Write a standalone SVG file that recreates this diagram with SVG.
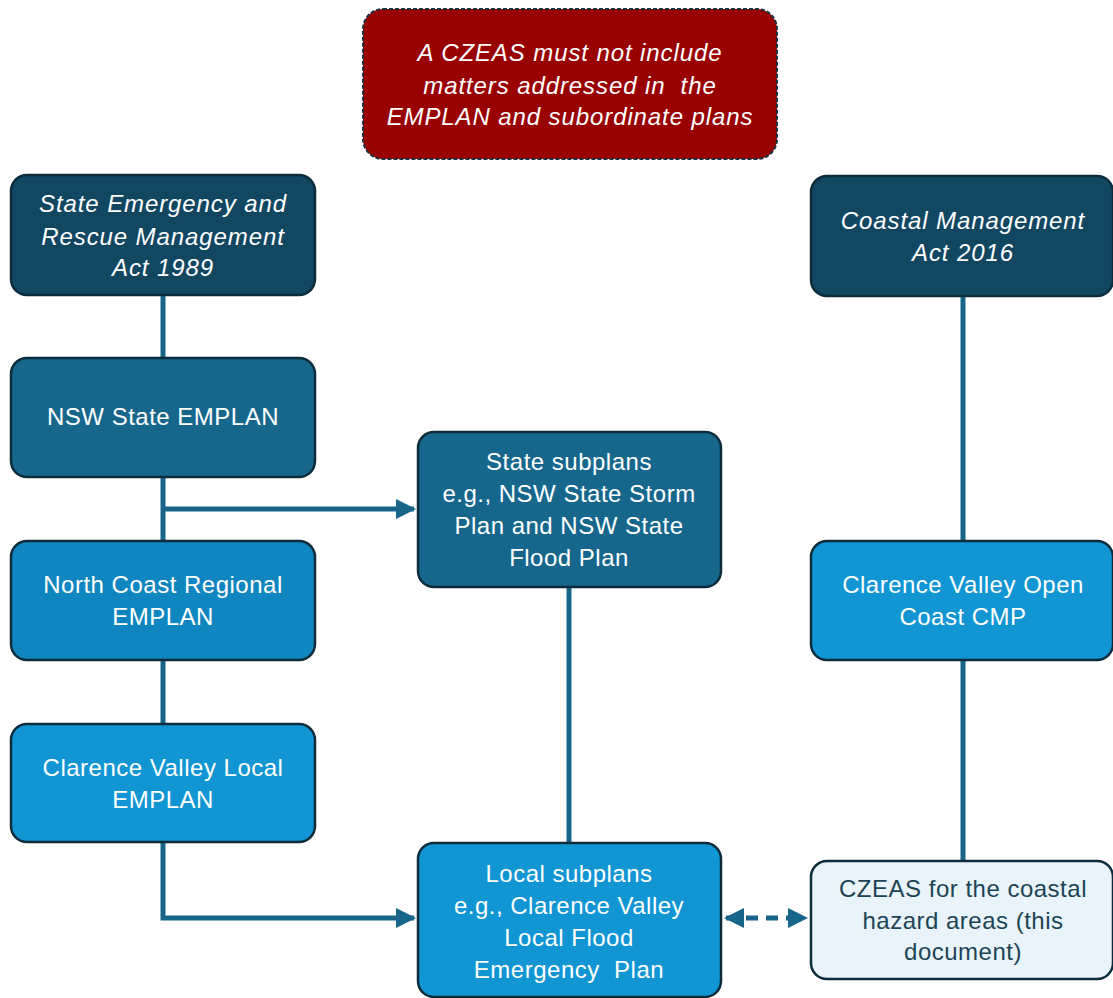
<svg xmlns="http://www.w3.org/2000/svg" width="1113" height="998" viewBox="0 0 1113 998">
  <style>
    .box { stroke: #0c2c3c; stroke-width: 2.5; }
    .t { font-family: "Liberation Sans", Arial, sans-serif; font-size: 24px; letter-spacing: 0.5px; fill: #ffffff; text-anchor: middle; white-space: pre; }
    .it { font-style: italic; letter-spacing: 0.9px; }
    .dk { fill: #1d4455; }
    .conn { stroke: #17668a; stroke-width: 5; fill: none; }
  </style>
  <defs>
    <marker id="arrow" viewBox="0 0 10 10" refX="9" refY="5" markerWidth="4" markerHeight="4" orient="auto-start-reverse" markerUnits="strokeWidth">
      <path d="M0,0 L10,5 L0,10 Z" fill="#17668a"/>
    </marker>
  </defs>

  <!-- connectors -->
  <g id="connectors">
    <line class="conn" x1="163" y1="295" x2="163" y2="358"/>
    <line class="conn" x1="163" y1="477" x2="163" y2="541"/>
    <line class="conn" x1="163" y1="660" x2="163" y2="724"/>
    <path class="conn" d="M163,509 H414" marker-end="url(#arrow)"/>
    <path class="conn" d="M163,842 V918 H414" marker-end="url(#arrow)"/>
    <line class="conn" x1="569" y1="587" x2="569" y2="843"/>
    <line class="conn" x1="963" y1="296" x2="963" y2="541"/>
    <line class="conn" x1="963" y1="660" x2="963" y2="861"/>
    <path class="conn" d="M726,918 H806" stroke-dasharray="12 8" marker-start="url(#arrow)" marker-end="url(#arrow)"/>
  </g>

  <!-- note -->
  <g id="note">
    <rect x="363" y="9" width="414" height="150" rx="20" fill="#990000" stroke="#1a3343" stroke-width="2" stroke-dasharray="4 2"/>
    <text class="t it" x="570" y="61">A CZEAS must not include</text>
    <text class="t it" x="570" y="94">matters addressed in  the</text>
    <text class="t it" x="570" y="125">EMPLAN and subordinate plans</text>
  </g>

  <g id="serm-act">
    <rect class="box" x="11" y="175" width="304" height="120" rx="16" fill="#124762"/>
    <text class="t it" x="163" y="212">State Emergency and</text>
    <text class="t it" x="163" y="245">Rescue Management</text>
    <text class="t it" x="163" y="276">Act 1989</text>
  </g>

  <g id="state-emplan">
    <rect class="box" x="11" y="358" width="304" height="119" rx="16" fill="#17678d"/>
    <text class="t" x="163" y="425">NSW State EMPLAN</text>
  </g>

  <g id="regional-emplan">
    <rect class="box" x="11" y="541" width="304" height="119" rx="16" fill="#0f86bf"/>
    <text class="t" x="163" y="593">North Coast Regional</text>
    <text class="t" x="163" y="625">EMPLAN</text>
  </g>

  <g id="local-emplan">
    <rect class="box" x="11" y="724" width="304" height="118" rx="16" fill="#1195d3"/>
    <text class="t" x="163" y="776">Clarence Valley Local</text>
    <text class="t" x="163" y="808">EMPLAN</text>
  </g>

  <g id="state-subplans">
    <rect class="box" x="418" y="432" width="303" height="155" rx="16" fill="#17678d"/>
    <text class="t" x="569" y="470">State subplans</text>
    <text class="t" x="569" y="502">e.g., NSW State Storm</text>
    <text class="t" x="569" y="534">Plan and NSW State</text>
    <text class="t" x="569" y="566">Flood Plan</text>
  </g>

  <g id="local-subplans">
    <rect class="box" x="418" y="843" width="303" height="154" rx="16" fill="#1195d3"/>
    <text class="t" x="569" y="882">Local subplans</text>
    <text class="t" x="569" y="914">e.g., Clarence Valley</text>
    <text class="t" x="569" y="946">Local Flood</text>
    <text class="t" x="569" y="978">Emergency  Plan</text>
  </g>

  <g id="coastal-act">
    <rect class="box" x="811" y="176" width="302" height="120" rx="16" fill="#124762"/>
    <text class="t it" x="963" y="229">Coastal Management</text>
    <text class="t it" x="963" y="261">Act 2016</text>
  </g>

  <g id="open-coast-cmp">
    <rect class="box" x="811" y="541" width="302" height="119" rx="16" fill="#1195d3"/>
    <text class="t" x="963" y="593">Clarence Valley Open</text>
    <text class="t" x="963" y="625">Coast CMP</text>
  </g>

  <g id="czeas">
    <rect class="box" x="811" y="861" width="302" height="118" rx="16" fill="#e8f3fa"/>
    <text class="t dk" x="963" y="897">CZEAS for the coastal</text>
    <text class="t dk" x="963" y="929">hazard areas (this</text>
    <text class="t dk" x="963" y="960">document)</text>
  </g>
</svg>
